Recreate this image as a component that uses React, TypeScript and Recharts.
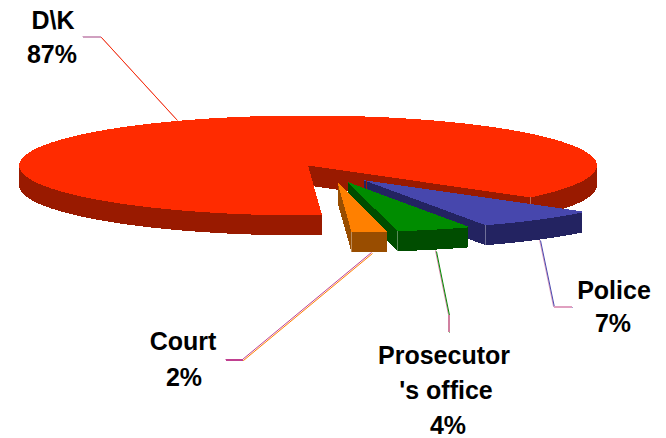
import { Cell, Pie, PieChart, Sector } from 'recharts';

const categories = ['D\\K', 'Police', 'Prosecutor', 'Court'];
const shares = [86.8, 7, 4.2, 2];

const TOP: Record<string, string> = { 'D\\K': '#ff2b00', Police: '#4747ad', Prosecutor: '#008c00', Court: '#ff8000' };
const WALL: Record<string, string> = { 'D\\K': '#991a00', Police: '#232361', Prosecutor: '#004d00', Court: '#994d00' };
// how far each slice is pulled out of the pie
const PULL: Record<string, [number, number]> = {
  'D\\K': [0, 0],
  Police: [55, 14.5],
  Prosecutor: [39.5, 16.5],
  Court: [29.5, 17],
};

const WIDTH = 666;
const HEIGHT = 438;
const CX = 308;
const CY = 165.5;
const RADIUS = 289;
const TILT = 0.173;
const DEPTH = 20;
const START = -87.2;

const chartData = categories.map((name, i) => ({ name, value: shares[i] }));

const depthSteps: number[] = [];
for (let d = DEPTH; d > 0; d--) depthSteps.push(d);

function Slice3D(props: any) {
  const { cx, cy, outerRadius, startAngle, endAngle, name } = props;
  const [dx, dy] = PULL[name];
  const place = (down: number) => `translate(${dx}, ${dy + down + cy * (1 - TILT)}) scale(1, ${TILT})`;
  const sector = { cx, cy, innerRadius: 0, outerRadius, startAngle, endAngle };
  // thin lit line on the wall where the arc ends
  const cornerAngle = (endAngle * Math.PI) / 180;
  const cornerX = cx + dx + outerRadius * Math.cos(cornerAngle);
  const cornerY = cy + dy - outerRadius * Math.sin(cornerAngle) * TILT;
  return (
    <g shapeRendering="crispEdges">
      {depthSteps.map((d) => (
        <g key={d} transform={place(d)}>
          <Sector {...sector} fill={WALL[name]} stroke="none" />
        </g>
      ))}
      <line x1={cornerX} y1={cornerY} x2={cornerX} y2={cornerY + DEPTH} stroke="#ffffff" strokeOpacity={0.35} />
      <g transform={place(0)}>
        <Sector {...sector} fill={TOP[name]} stroke="none" />
      </g>
    </g>
  );
}

// each leader is a two-tone line, the stub next to the label is only the pale tone
const leaders = [
  { points: '83,37 101,37 177,120', stub: '83,37 101,37', color: '#ff2b00', shade: '#d0a0c0' },
  { points: '226,360 243,360 372,253', stub: '226,360 243,360', color: '#ff8000', shade: '#c04090' },
  { points: '436,251 449,315 449,332', stub: '449,315 449,332', color: '#008c00', shade: '#d080a0' },
  { points: '540,240 554,307 572,307', stub: '554,307 572,307', color: '#4747ad', shade: '#e0a0c0' },
];

const labels = [
  { text: 'D\\K', x: 53, y: 29 },
  { text: '87%', x: 52, y: 63 },
  { text: 'Court', x: 183, y: 350 },
  { text: '2%', x: 184, y: 386 },
  { text: 'Prosecutor', x: 444, y: 364 },
  { text: "'s office", x: 446, y: 399 },
  { text: '4%', x: 448, y: 434 },
  { text: 'Police', x: 614, y: 299 },
  { text: '7%', x: 613, y: 332 },
];

export default function App() {
  return (
    <div style={{ position: 'absolute', left: 0, top: 0, width: WIDTH, height: HEIGHT, background: '#fff' }}>
      <PieChart width={WIDTH} height={HEIGHT} margin={{ top: 0, right: 0, bottom: 0, left: 0 }}>
        <Pie
          data={chartData}
          dataKey="value"
          nameKey="name"
          cx={CX}
          cy={CY}
          innerRadius={0}
          outerRadius={RADIUS}
          startAngle={START}
          endAngle={START - 360}
          paddingAngle={0}
          stroke="none"
          shape={Slice3D}
          isAnimationActive={false}
        >
          {chartData.map((d) => (
            <Cell key={d.name} fill={TOP[d.name]} />
          ))}
        </Pie>
        {leaders.map((l) => (
          <g key={l.points} fill="none">
            <polyline points={l.points} stroke={l.shade} strokeWidth={1} transform="translate(-0.5,-0.5)" />
            <polyline points={l.points} stroke={l.color} strokeWidth={1} transform="translate(0.5,0.5)" />
            <polyline points={l.stub} stroke={l.shade} strokeWidth={2} />
          </g>
        ))}
        {labels.map((l) => (
          <text
            key={l.text}
            x={l.x}
            y={l.y}
            textAnchor="middle"
            fontFamily="'Liberation Sans', Arial, sans-serif"
            fontWeight={700}
            fontSize={25}
            fill="#000"
          >
            {l.text}
          </text>
        ))}
      </PieChart>
    </div>
  );
}
